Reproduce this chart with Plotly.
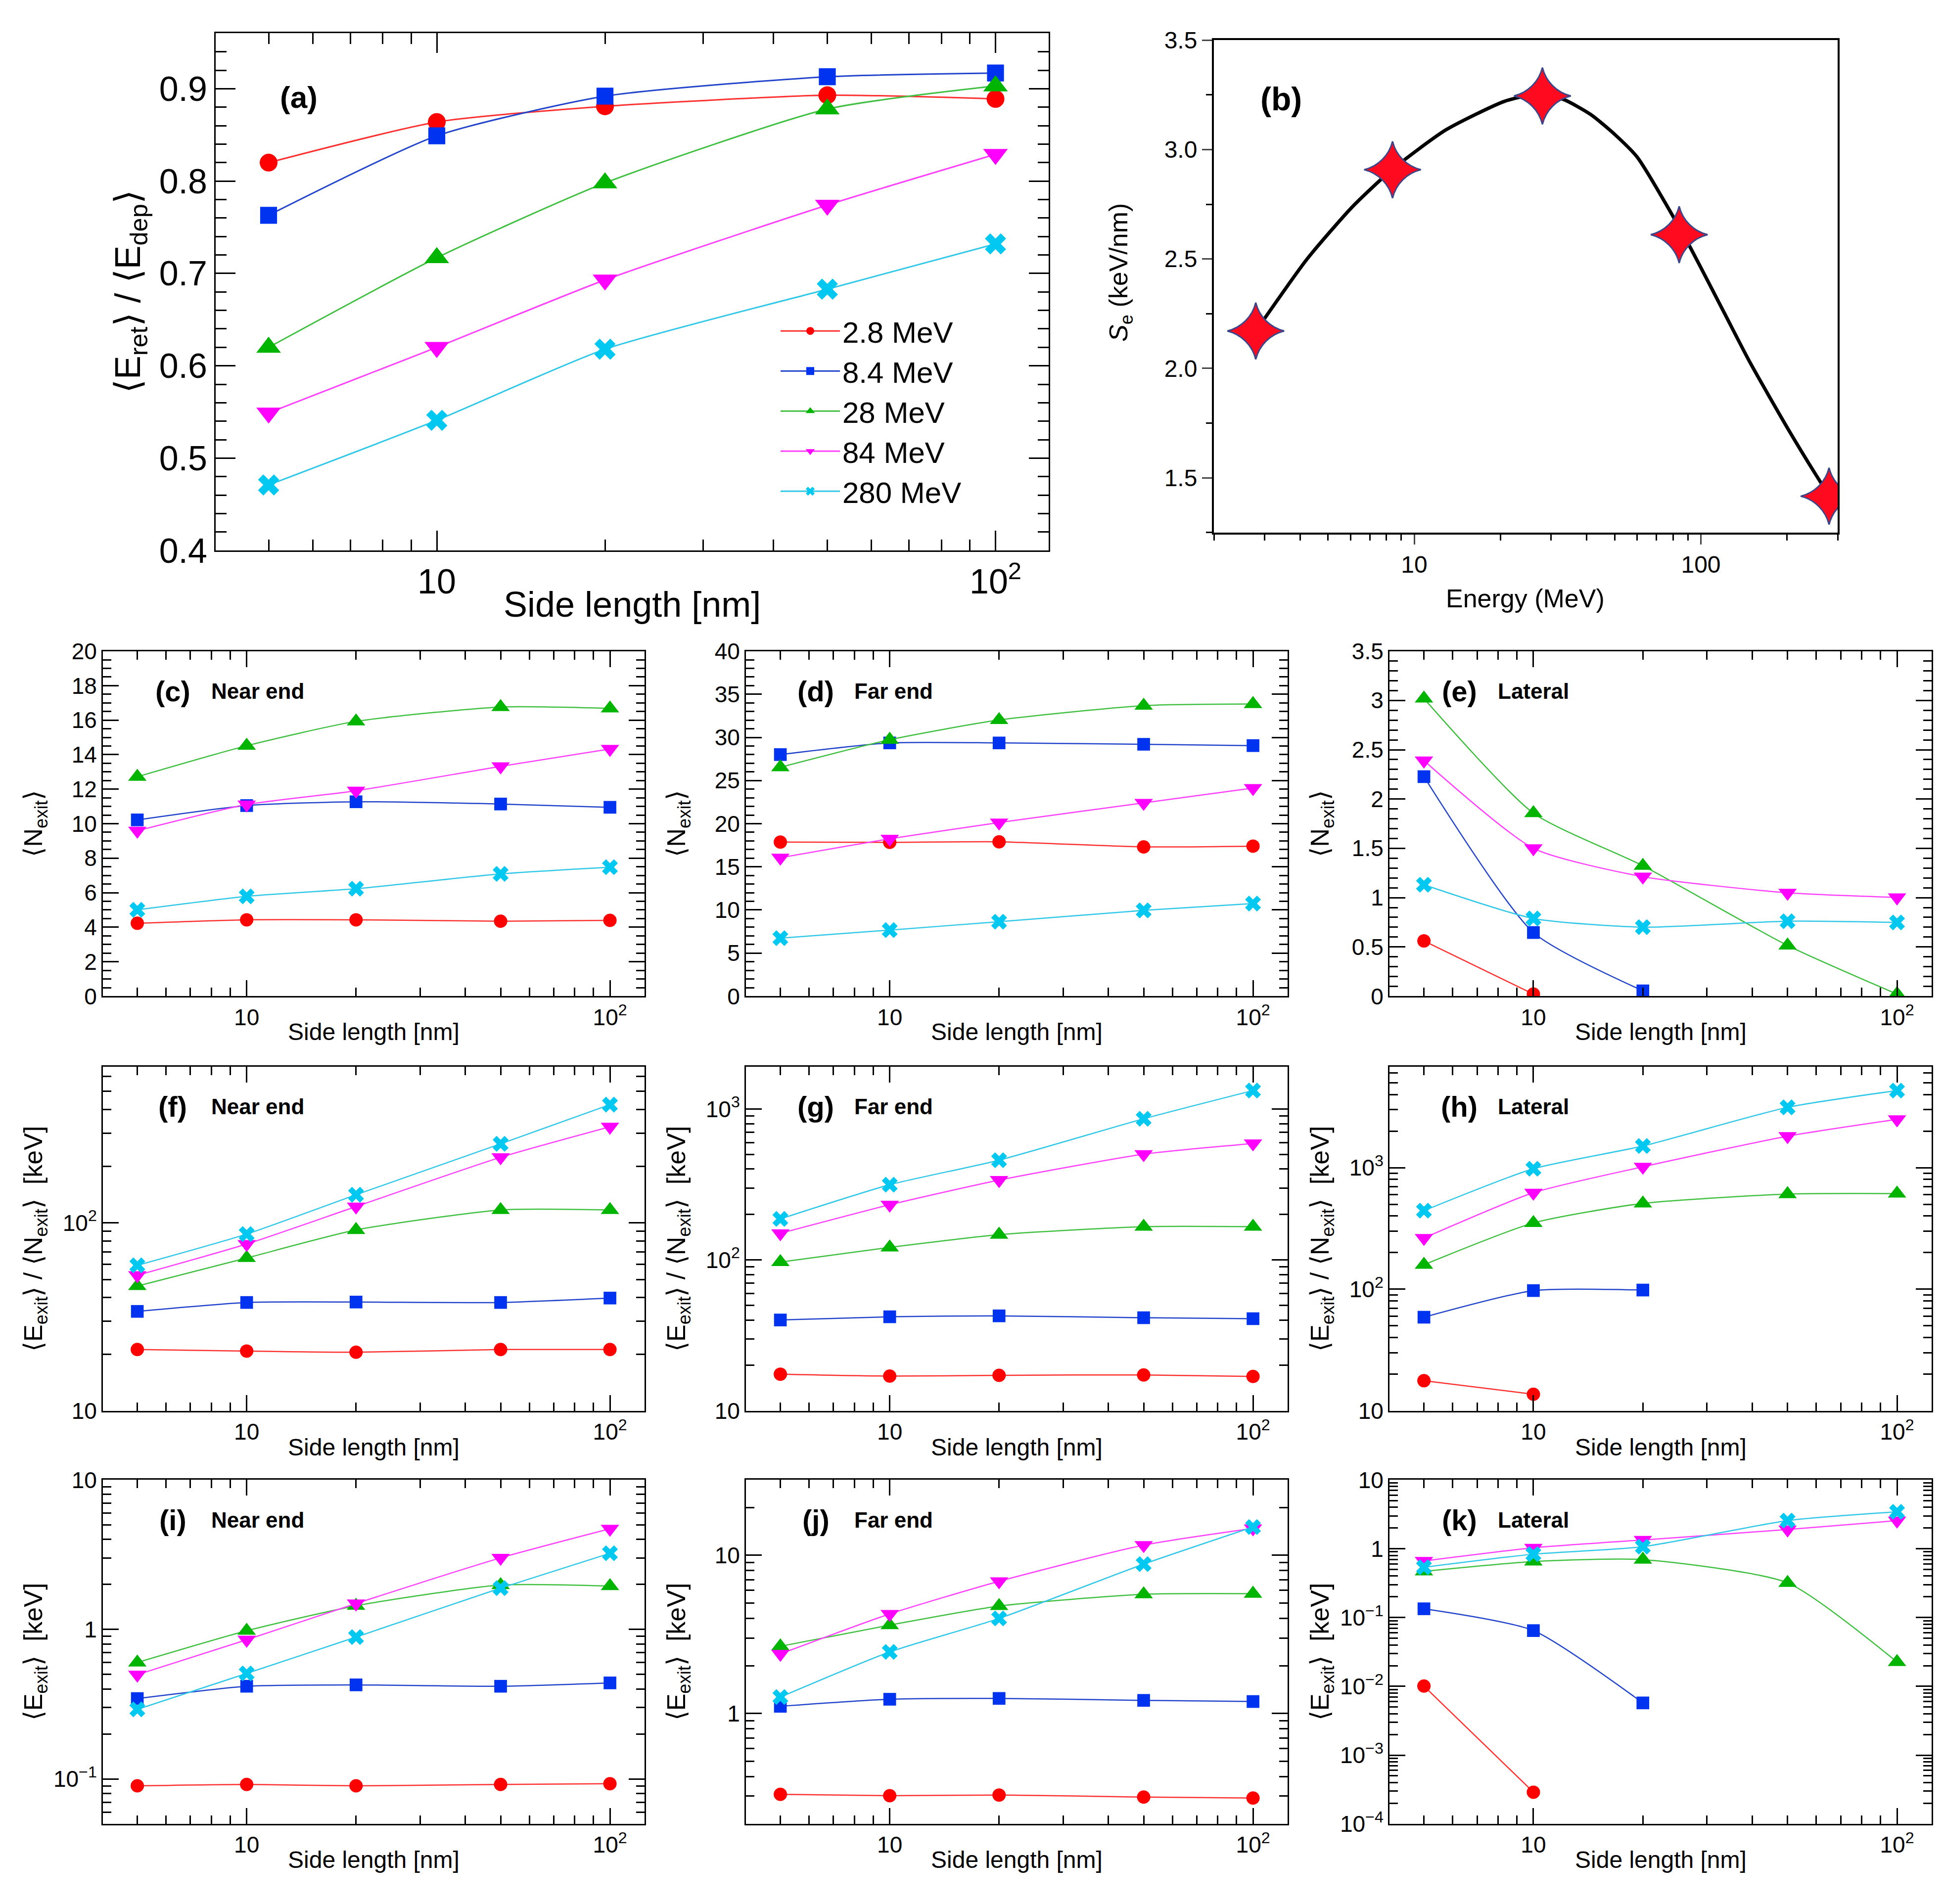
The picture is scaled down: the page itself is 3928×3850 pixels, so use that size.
import plotly.graph_objects as go
import math

# ---------------- data ----------------
side_nm = [5, 10, 20, 50, 100]
series_names = ["2.8 MeV", "8.4 MeV", "28 MeV", "84 MeV", "280 MeV"]

# (a) <E_ret>/<E_dep>
a_2p8 = [0.820, 0.864, 0.881, 0.893, 0.889]
a_8p4 = [0.763, 0.849, 0.892, 0.913, 0.917]
a_28 = [0.620, 0.717, 0.798, 0.878, 0.903]
a_84 = [0.549, 0.620, 0.693, 0.774, 0.829]
a_280 = [0.471, 0.541, 0.618, 0.683, 0.732]

# (b) stopping power
beam_energy_mev = [2.8, 8.4, 28, 84, 280]
se_points = [2.171, 2.908, 3.245, 2.611, 1.416]
se_curve_energy = [2.8, 4.23, 6.1, 8.4, 12.9, 20.6, 26, 33, 41.3, 50, 60, 87, 120, 148, 200, 253, 280]
se_curve_value = [2.17, 2.50, 2.74, 2.91, 3.09, 3.22, 3.25, 3.23, 3.16, 3.07, 2.965, 2.61, 2.26, 2.03, 1.73, 1.51, 1.42]

# (c) near end <N_exit>
c_2p8 = [4.23, 4.43, 4.43, 4.35, 4.40]
c_8p4 = [10.22, 11.05, 11.27, 11.14, 10.95]
c_28 = [12.72, 14.52, 15.93, 16.76, 16.68]
c_84 = [9.59, 11.11, 11.91, 13.32, 14.33]
c_280 = [5.01, 5.79, 6.23, 7.09, 7.48]

# (d) far end <N_exit>
d_2p8 = [17.87, 17.84, 17.90, 17.31, 17.40]
d_8p4 = [28.01, 29.36, 29.36, 29.20, 29.05]
d_28 = [26.54, 29.73, 32.02, 33.68, 33.87]
d_84 = [16.06, 18.25, 20.13, 22.41, 24.13]
d_280 = [6.73, 7.67, 8.64, 9.95, 10.74]

# (e) lateral <N_exit>
e_2p8 = [0.561, 0.022, None, None, None]
e_8p4 = [2.227, 0.646, 0.055, None, None]
e_28 = [3.02, 1.857, 1.323, 0.515, 0.022]
e_84 = [2.39, 1.50, 1.213, 1.049, 1.002]
e_280 = [1.131, 0.789, 0.701, 0.761, 0.748]

# (f) near end <E_exit>/<N_exit> [keV]
f_2p8 = [21.2, 20.8, 20.5, 21.2, 21.2]
f_8p4 = [33.8, 37.7, 37.9, 37.7, 39.8]
f_28 = [46.1, 65.0, 91.6, 117, 117]
f_84 = [52.6, 77.1, 122, 223, 324]
f_280 = [59.4, 87.1, 141, 263, 425]

# (g) far end <E_exit>/<N_exit> [keV]
g_2p8 = [17.5, 17.0, 17.2, 17.3, 16.9]
g_8p4 = [40.0, 42.0, 42.6, 41.4, 40.8]
g_28 = [96.8, 121, 147, 166, 166]
g_84 = [150, 232, 338, 502, 591]
g_280 = [187, 315, 458, 861, 1325]

# (h) lateral <E_exit>/<N_exit> [keV]
h_2p8 = [17.7, 13.7, None, None, None]
h_8p4 = [58.9, 97.5, 98.5, None, None]
h_28 = [159, 351, 508, 606, 612]
h_84 = [264, 622, 1016, 1815, 2494]
h_280 = [443, 980, 1506, 3133, 4305]

# (i) near end <E_exit> [keV]
i_2p8 = [0.090, 0.092, 0.090, 0.092, 0.093]
i_8p4 = [0.345, 0.417, 0.426, 0.417, 0.439]
i_28 = [0.601, 0.98, 1.44, 1.98, 1.95]
i_84 = [0.498, 0.853, 1.49, 3.01, 4.71]
i_280 = [0.292, 0.508, 0.889, 1.89, 3.23]

# (j) far end <E_exit> [keV]
j_2p8 = [0.308, 0.302, 0.305, 0.296, 0.292]
j_8p4 = [1.11, 1.23, 1.245, 1.21, 1.19]
j_28 = [2.66, 3.62, 4.78, 5.67, 5.72]
j_84 = [2.38, 4.26, 6.85, 11.6, 14.8]
j_280 = [1.27, 2.45, 3.99, 8.80, 15.1]

# (k) lateral <E_exit> [keV]
k_2p8 = [0.0101, 0.00029, None, None, None]
k_8p4 = [0.134, 0.0646, 0.00575, None, None]
k_28 = [0.469, 0.651, 0.694, 0.319, 0.0226]
k_84 = [0.663, 1.03, 1.34, 1.90, 2.56]
k_280 = [0.537, 0.833, 1.07, 2.56, 3.43]

# tick labels
x_side_tickvals = [10, 100]
x_side_ticktext = ["10", "10<sup>2</sup>"]
a_y_tickvals = [0.4, 0.5, 0.6, 0.7, 0.8, 0.9]
a_y_ticktext = ["0.4", "0.5", "0.6", "0.7", "0.8", "0.9"]
b_x_tickvals = [10, 100]
b_x_ticktext = ["10", "100"]
b_y_tickvals = [1.5, 2.0, 2.5, 3.0, 3.5]
b_y_ticktext = ["1.5", "2.0", "2.5", "3.0", "3.5"]
f_y_tickvals = [10, 100]
f_y_ticktext = ["10", "10<sup>2</sup>"]
gh_y_tickvals = [10, 100, 1000]
gh_y_ticktext = ["10", "10<sup>2</sup>", "10<sup>3</sup>"]
i_y_tickvals = [0.1, 1, 10]
i_y_ticktext = ["10<sup>−1</sup>", "1", "10"]
j_y_tickvals = [1, 10]
j_y_ticktext = ["1", "10"]
k_y_tickvals = [1e-4, 1e-3, 1e-2, 1e-1, 1, 10]
k_y_ticktext = ["10<sup>−4</sup>", "10<sup>−3</sup>", "10<sup>−2</sup>", "10<sup>−1</sup>", "1", "10"]

# ---------------- style ----------------
colors = ["#FF0000", "#0033F0", "#00B400", "#FF00FF", "#00C8F0"]
line_colors = ["#FF3030", "#2244CC", "#40C040", "#FF40FF", "#30C8E8"]
symbols = ["circle", "square", "triangle-up", "triangle-down", "x"]
symbol_scale = [1.0, 0.95, 1.2, 1.2, 1.05]
FONT = "Liberation Sans"
W, H = 3928, 3850


def log_minor(lo_exp, hi_exp):
    vals = []
    for e in range(lo_exp, hi_exp + 1):
        for m in range(2, 10):
            vals.append(m * 10 ** e)
    return vals


fig = go.Figure()

# domains in pixels (left, right, top, bottom)
boxes = {
    1: (428, 2112, 34, 1098),
    2: (2446, 3707, 48, 1061),
}
cols = [(200, 1295), (1500, 2595), (2801, 3897)]
rows = [(1305, 2015), (2160, 2868), (3010, 3718)]
n = 3
for r in rows:
    for c in cols:
        boxes[n] = (c[0], c[1], r[0], r[1])
        n += 1


def dom(idx):
    l, rgt, t, b = boxes[idx]
    return [l / W, rgt / W], [1 - b / H, 1 - t / H]


def add_series(idx, ys, msize, lw, showlegend=False):
    xa = "x" if idx == 1 else "x%d" % idx
    ya = "y" if idx == 1 else "y%d" % idx
    for s in range(5):
        fig.add_trace(go.Scatter(
            x=side_nm, y=ys[s], mode="lines+markers",
            name=series_names[s], showlegend=showlegend,
            line=dict(color=line_colors[s], width=lw, shape="spline", smoothing=0.6),
            marker=dict(symbol=symbols[s], color=colors[s], size=msize * symbol_scale[s],
                        line=dict(width=0)),
            xaxis=xa, yaxis=ya, connectgaps=False))


add_series(1, [a_2p8, a_8p4, a_28, a_84, a_280], 36, 3, showlegend=True)
panel_data = [
    [c_2p8, c_8p4, c_28, c_84, c_280],
    [d_2p8, d_8p4, d_28, d_84, d_280],
    [e_2p8, e_8p4, e_28, e_84, e_280],
    [f_2p8, f_8p4, f_28, f_84, f_280],
    [g_2p8, g_8p4, g_28, g_84, g_280],
    [h_2p8, h_8p4, h_28, h_84, h_280],
    [i_2p8, i_8p4, i_28, i_84, i_280],
    [j_2p8, j_8p4, j_28, j_84, j_280],
    [k_2p8, k_8p4, k_28, k_84, k_280],
]
for p, ys in enumerate(panel_data):
    add_series(p + 3, ys, 27, 2.5)

# (b)
fig.add_trace(go.Scatter(x=se_curve_energy, y=se_curve_value, mode="lines",
                         line=dict(color="black", width=7, shape="spline", smoothing=0.6),
                         showlegend=False, xaxis="x2", yaxis="y2"))
fig.add_trace(go.Scatter(x=beam_energy_mev, y=se_points, mode="markers",
                         marker=dict(symbol="star-diamond", size=82, color="#FF0A1E",
                                     line=dict(width=3, color="#3C4688")),
                         showlegend=False, xaxis="x2", yaxis="y2"))

layout = dict(width=W, height=H, margin=dict(l=0, r=0, t=0, b=0),
              paper_bgcolor="white", plot_bgcolor="white",
              font=dict(family=FONT, color="black"))

x_minor_side = [5, 6, 7, 8, 9, 20, 30, 40, 50, 60, 70, 80, 90]
side_range = [math.log10(4.02), math.log10(124.5)]


def root_axis(domain, anchor, rng, tvals, ttext, fsize, tl, mtl, mtvals=None, mdtick=None,
              typ="linear"):
    d = dict(domain=domain, anchor=anchor, range=rng, type=typ,
             tickmode="array", tickvals=tvals, ticktext=ttext,
             tickfont=dict(size=fsize, family=FONT, color="black"),
             ticks="inside", ticklen=tl, tickwidth=3, tickcolor="black",
             showline=True, linecolor="black", linewidth=3, mirror="allticks",
             showgrid=False, zeroline=False, fixedrange=True)
    minor = dict(ticks="inside", ticklen=mtl, tickwidth=2.5, tickcolor="black", showgrid=False)
    if mtvals is not None:
        minor["tickmode"] = "array"
        minor["tickvals"] = mtvals
    if mdtick is not None:
        minor["dtick"] = mdtick
    d["minor"] = minor
    return d


# (a)
xd, yd = dom(1)
layout["xaxis"] = root_axis(xd, "y", side_range, x_side_tickvals, x_side_ticktext, 70, 40, 22,
                            mtvals=x_minor_side, typ="log")
layout["yaxis"] = root_axis(yd, "x", [0.4, 0.96], a_y_tickvals, a_y_ticktext, 70, 40, 22,
                            mdtick=0.02)

# (b) Origin style
xd, yd = dom(2)
layout["xaxis2"] = dict(domain=xd, anchor="y2", type="log", range=[math.log10(2), math.log10(300)],
                        tickmode="array", tickvals=b_x_tickvals, ticktext=b_x_ticktext,
                        tickfont=dict(size=48, family=FONT), ticks="outside", ticklen=20,
                        tickwidth=3, showline=True, linecolor="black", linewidth=4, mirror=True,
                        showgrid=False, zeroline=False,
                        minor=dict(ticks="outside", ticklen=12, tickwidth=2.5, tickcolor="black",
                                   tickmode="array",
                                   tickvals=[2, 3, 4, 5, 6, 7, 8, 9, 20, 30, 40, 50, 60, 70, 80, 90, 200, 300]))
layout["yaxis2"] = dict(domain=yd, anchor="x2", range=[1.25, 3.5],
                        tickmode="array", tickvals=b_y_tickvals, ticktext=b_y_ticktext,
                        tickfont=dict(size=48, family=FONT), ticks="outside", ticklen=20,
                        tickwidth=3, showline=True, linecolor="black", linewidth=4, mirror=True,
                        showgrid=False, zeroline=False,
                        minor=dict(ticks="outside", ticklen=12, tickwidth=2.5, tickcolor="black",
                                   dtick=0.25))

row_y = [
    dict(rng=[0, 20], tv=[0, 2, 4, 6, 8, 10, 12, 14, 16, 18, 20], tt=None, md=0.5, typ="linear"),
    dict(rng=[0, 40], tv=[0, 5, 10, 15, 20, 25, 30, 35, 40], tt=None, md=1, typ="linear"),
    dict(rng=[0, 3.5], tv=[0, 0.5, 1, 1.5, 2, 2.5, 3, 3.5], tt=None, md=0.1, typ="linear"),
    dict(rng=[1, 2.83], tv=f_y_tickvals, tt=f_y_ticktext, mv=log_minor(1, 2), typ="log"),
    dict(rng=[1, 3.28], tv=gh_y_tickvals, tt=gh_y_ticktext, mv=log_minor(1, 3), typ="log"),
    dict(rng=[1, 3.83], tv=gh_y_tickvals, tt=gh_y_ticktext, mv=log_minor(1, 3), typ="log"),
    dict(rng=[math.log10(0.05), 1], tv=i_y_tickvals, tt=i_y_ticktext, mv=log_minor(-2, 0), typ="log"),
    dict(rng=[math.log10(0.2), math.log10(30)], tv=j_y_tickvals, tt=j_y_ticktext, mv=log_minor(-1, 1), typ="log"),
    dict(rng=[-4, 1], tv=k_y_tickvals, tt=k_y_ticktext, mv=log_minor(-4, 0), typ="log"),
]


def fmt(v):
    return ("%g" % v)


for p in range(9):
    idx = p + 3
    xd, yd = dom(idx)
    spec = row_y[p]
    layout["xaxis%d" % idx] = root_axis(xd, "y%d" % idx, side_range, x_side_tickvals, x_side_ticktext,
                                        46, 32, 17, mtvals=x_minor_side, typ="log")
    tt = spec["tt"] if spec["tt"] is not None else [fmt(v) for v in spec["tv"]]
    layout["yaxis%d" % idx] = root_axis(yd, "x%d" % idx, spec["rng"], spec["tv"], tt, 46, 32, 17,
                                        mtvals=spec.get("mv"), mdtick=spec.get("md"), typ=spec["typ"])

layout["legend"] = dict(x=1565 / W, y=1 - 600 / H, xanchor="left", yanchor="top",
                        font=dict(size=60, family=FONT), bgcolor="rgba(0,0,0,0)",
                        itemwidth=120, tracegroupgap=0)

ann = []


def A(text, x, y, size, xref="paper", yref="paper", angle=0, xanchor="center", bold=False):
    ann.append(dict(text=("<b>%s</b>" % text) if bold else text, x=x, y=y, xref=xref, yref=yref,
                    showarrow=False, textangle=angle, xanchor=xanchor, yanchor="middle",
                    font=dict(size=size, family=FONT, color="black")))


# axis titles
A("Side length [nm]", 1270 / W, 1 - 1209 / H, 72)
A("⟨E<sub>ret</sub>⟩ / ⟨E<sub>dep</sub>⟩", 255 / W, 1 - 566 / H, 72, angle=-90)
A("Energy (MeV)", 3075 / W, 1 - 1197 / H, 52)
A("<i>S</i><sub>e</sub> (keV/nm)", 2257 / W, 1 - 526 / H, 52, angle=-90)

col_cx = [747.5, 2047.5, 3349]
col_ty = [63, 1363, 2664]
row_bx = [2088, 2943, 3792]
row_cy = [1660, 2514, 3364]
row_titles = ["⟨N<sub>exit</sub>⟩",
              "⟨E<sub>exit</sub>⟩ / ⟨N<sub>exit</sub>⟩  [keV]",
              "⟨E<sub>exit</sub>⟩  [keV]"]
for r in range(3):
    for c in range(3):
        A("Side length [nm]", col_cx[c] / W, 1 - row_bx[r] / H, 48)
        A(row_titles[r], col_ty[c] / W, 1 - row_cy[r] / H, 52, angle=-90)

# panel labels
A("(a)", 0.0998, 0.877, 62, xref="x domain", yref="y domain", bold=True)
A("(b)", 0.108, 0.881, 66, xref="x2 domain", yref="y2 domain", bold=True)
letters = ["c", "d", "e", "f", "g", "h", "i", "j", "k"]
places = ["Near end", "Far end", "Lateral"]
for p in range(9):
    idx = p + 3
    A("(%s)" % letters[p], 0.129, 0.884, 58, xref="x%d domain" % idx, yref="y%d domain" % idx, bold=True)
    A(places[p % 3], 0.198, 0.884, 44, xref="x%d domain" % idx, yref="y%d domain" % idx,
      xanchor="left", bold=True)

layout["annotations"] = ann
fig.update_layout(**layout)
fig.write_html("out.html")
